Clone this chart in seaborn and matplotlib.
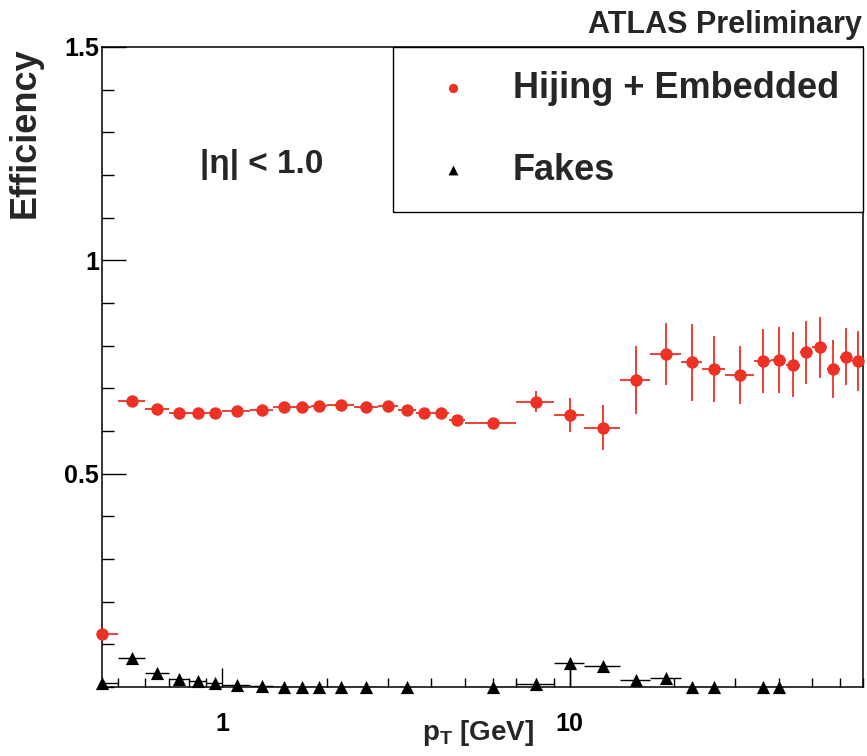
import matplotlib
matplotlib.use('Agg')
import matplotlib.pyplot as plt
import matplotlib.ticker as mticker
import seaborn as sns
import pandas as pd
import numpy as np

# pT bin centres and half widths [GeV]
pt = [0.45, 0.55, 0.65, 0.75, 0.85, 0.95, 1.1, 1.3, 1.5, 1.7, 1.9, 2.2, 2.6, 3.0, 3.4, 3.8,
      4.25, 4.75, 6.0, 8.0, 10.0, 12.5, 15.5, 19.0, 22.5, 26.0, 31.0, 36.0, 40.0, 44.0, 48.0,
      52.5, 57.5, 62.5, 67.5]
pt_half = [0.05, 0.05, 0.05, 0.05, 0.05, 0.05, 0.1, 0.1, 0.1, 0.1, 0.1, 0.2, 0.2, 0.2, 0.2, 0.2,
           0.25, 0.25, 1.0, 1.0, 1.0, 1.5, 1.5, 2.0, 1.5, 2.0, 3.0, 2.0, 2.0, 2.0, 2.0,
           2.5, 2.5, 2.5, 2.5]

# Hijing + Embedded efficiency
eff = [0.124, 0.670, 0.651, 0.641, 0.641, 0.641, 0.647, 0.649, 0.655, 0.657, 0.659, 0.660,
       0.655, 0.659, 0.649, 0.641, 0.641, 0.626, 0.618, 0.669, 0.637, 0.608, 0.719, 0.780,
       0.761, 0.745, 0.731, 0.764, 0.766, 0.755, 0.784, 0.796, 0.745, 0.774, 0.764]
eff_err = [0.004, 0.004, 0.004, 0.004, 0.004, 0.004, 0.004, 0.004, 0.004, 0.004, 0.004, 0.004,
           0.005, 0.005, 0.005, 0.005, 0.006, 0.006, 0.008, 0.024, 0.040, 0.053, 0.079, 0.073,
           0.090, 0.078, 0.067, 0.075, 0.078, 0.076, 0.073, 0.071, 0.068, 0.067, 0.070]

# fake rate (nan = no point drawn)
nan = np.nan
fakes = [0.010, 0.069, 0.033, 0.019, 0.014, 0.010, 0.005, 0.002, 0.001, 0.001, 0.001, 0.001,
         0.001, nan, 0.001, nan, nan, nan, 0.0, 0.006, 0.057, 0.048, 0.016, 0.022,
         0.001, 0.0, nan, 0.0, 0.0, nan, nan, nan, nan, nan, nan]
fakes_err_lo = [0.0, 0.0, 0.0, 0.0, 0.0, 0.0, 0.0, 0.0, 0.0, 0.0, 0.0, 0.0,
                0.0, nan, 0.0, nan, nan, nan, 0.0, 0.0, 0.057, 0.0, 0.0, 0.0,
                0.0, 0.0, nan, 0.0, 0.0, nan, nan, nan, nan, nan, nan]
fakes_err_hi = [0.0, 0.0, 0.0, 0.0, 0.0, 0.0, 0.0, 0.0, 0.0, 0.0, 0.0, 0.0,
                0.0, nan, 0.0, nan, nan, nan, 0.0, 0.0, 0.010, 0.0, 0.0, 0.0,
                0.0, 0.0, nan, 0.0, 0.0, nan, nan, nan, nan, nan, nan]

red = '#ed3225'

sns.set_theme(style='ticks')
plt.rcParams['font.family'] = ['Liberation Sans', 'DejaVu Sans']
plt.rcParams['font.weight'] = 'bold'
plt.rcParams['axes.labelweight'] = 'bold'
plt.rcParams['mathtext.fontset'] = 'custom'
plt.rcParams['mathtext.rm'] = 'Liberation Sans:bold'
plt.rcParams['mathtext.bf'] = 'Liberation Sans:bold'

df_eff = pd.DataFrame({'pt': pt, 'value': eff})
df_fake = pd.DataFrame({'pt': pt, 'value': fakes}).dropna()

fig = plt.figure(figsize=(8.67, 7.56), dpi=100)
ax = fig.add_axes([0.1176, 0.0913, 0.8778, 0.8466])

# error bars first (ROOT style, no caps)
ax.errorbar(pt, eff, xerr=pt_half, yerr=eff_err, fmt='none', ecolor=red,
            elinewidth=1.3, capsize=0, zorder=2)
ax.errorbar(pt, fakes, xerr=pt_half, yerr=[fakes_err_lo, fakes_err_hi], fmt='none',
            ecolor='black', elinewidth=1.0, capsize=0, zorder=2)

sns.scatterplot(data=df_eff, x='pt', y='value', ax=ax, color=red, marker='o', s=80,
                linewidth=0, label='Hijing + Embedded', zorder=3, clip_on=False)
sns.scatterplot(data=df_fake, x='pt', y='value', ax=ax, color='black', marker='^', s=90,
                linewidth=0, label='Fakes', zorder=3, clip_on=False)

ax.set_xscale('log')
ax.set_xlim(0.45, 70)
ax.set_ylim(0, 1.5)

ax.set_xticks([1, 10])
ax.set_xticklabels(['1', '10'])
ax.xaxis.set_minor_locator(mticker.LogLocator(base=10, subs=(2, 3, 4, 5, 6, 7, 8, 9), numticks=20))
ax.xaxis.set_minor_formatter(mticker.NullFormatter())
ax.set_yticks([0.5, 1.0, 1.5])
ax.set_yticklabels(['0.5', '1', '1.5'])
ax.yaxis.set_minor_locator(mticker.MultipleLocator(0.1))

ax.tick_params(axis='both', which='both', direction='in', colors='black', width=1.0,
               top=False, right=False)
ax.tick_params(axis='y', which='major', length=17, pad=2, labelsize=18)
ax.tick_params(axis='y', which='minor', length=8.5)
ax.tick_params(axis='x', which='major', length=13.5, pad=18, labelsize=18)
ax.tick_params(axis='x', which='minor', length=6.5)
for sp in ax.spines.values():
    sp.set_color('black')
    sp.set_linewidth(1.1)

ax.set_xlabel(r'$\mathbf{p_{T}}$ [GeV]', fontsize=20, va='top')
ax.xaxis.set_label_coords(0.494, -0.048)
ax.set_ylabel('Efficiency', fontsize=26, loc='top')
ax.yaxis.set_label_coords(-0.0775, 1.0)

ax.text(0.129, 0.803, '|η| < 1.0', transform=ax.transAxes, fontsize=24,
        ha='left', va='baseline')
fig.text(862 / 867, 1 - 33 / 756, 'ATLAS Preliminary', fontsize=22,
         ha='right', va='baseline')

leg = ax.legend(loc='upper right', bbox_to_anchor=(1.0, 1.0), borderaxespad=0,
                fontsize=26, frameon=True, fancybox=False, framealpha=1,
                edgecolor='black', borderpad=0.66, handlelength=1.97,
                handletextpad=0.68, labelspacing=1.3, markerscale=0.75)
leg.get_frame().set_linewidth(1.0)

fig.savefig('out.png', dpi=100)
